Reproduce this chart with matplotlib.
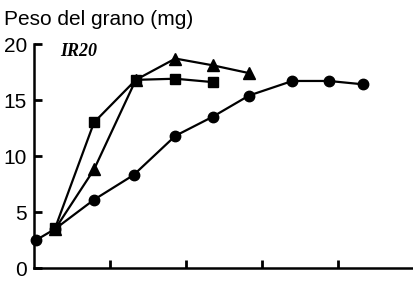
import matplotlib
matplotlib.use('Agg')
import matplotlib.pyplot as plt

# days after flowering vs grain weight (mg), IR20
dias_circ = [0.3, 2.8, 7.9, 13.1, 18.6, 23.5, 28.3, 34.0, 38.8, 43.3]
peso_circ = [2.5, 3.5, 6.1, 8.3, 11.8, 13.5, 15.4, 16.7, 16.7, 16.4]

dias_tri = [2.8, 7.9, 13.4, 18.6, 23.5, 28.3]
peso_tri = [3.5, 8.8, 16.8, 18.7, 18.1, 17.4]

dias_cuad = [2.8, 7.9, 13.4, 18.6, 23.5]
peso_cuad = [3.6, 13.0, 16.8, 16.9, 16.6]

y_ticks = [0, 5, 10, 15, 20]
x_ticks = [10, 20, 30, 40, 50]

plt.rcParams['font.family'] = ['Liberation Sans', 'DejaVu Sans']

fig = plt.figure(figsize=(4.14, 2.83), dpi=100)
ax = fig.add_axes([0.0821, 0.053, 0.9179, 0.7915])

ax.plot(dias_circ, peso_circ, '-o', color='black', lw=1.6, ms=7.5, clip_on=False)
ax.plot(dias_tri, peso_tri, '-^', color='black', lw=1.6, ms=8, clip_on=False)
ax.plot(dias_cuad, peso_cuad, '-s', color='black', lw=1.6, ms=7.5, clip_on=False)

ax.set_xlim(0, 48.7)
ax.set_ylim(0, 20)
ax.set_yticks(y_ticks)
ax.set_yticklabels([str(v) for v in y_ticks], fontsize=15)
ax.set_xticks(x_ticks)
ax.set_xticklabels([])
ax.tick_params(direction='in', length=6, width=2, pad=5)

ax.spines['top'].set_visible(False)
ax.spines['right'].set_visible(False)
ax.spines['left'].set_linewidth(1.8)
ax.spines['bottom'].set_linewidth(1.8)

ax.text(3.5, 19.3, 'IR20', fontsize=13, style='italic', weight='bold',
        family='Liberation Serif', va='center', ha='left')
fig.text(0.01, 0.965, 'Peso del grano (mg)', fontsize=15, va='top', ha='left')

plt.savefig('out.png', dpi=100)
